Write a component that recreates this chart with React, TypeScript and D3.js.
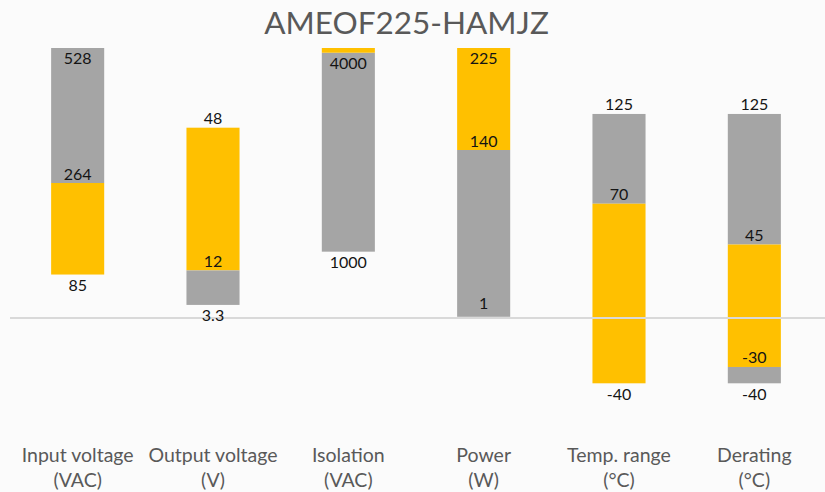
import React from "react";
import * as d3 from "d3";

const title = "AMEOF225-HAMJZ";
const categories = ["Input voltage", "Output voltage", "Isolation", "Power", "Temp. range", "Derating"];
const units = ["(VAC)", "(V)", "(VAC)", "(W)", "(°C)", "(°C)"];
// value that reaches the top of the plot for each category (each has its own scale)
const fullScale = [528, 68.1, 4071, 225, 165.4, 165.4];

// segments: [from, to, series] where series 0 = grey, 1 = yellow
const segInput = [[264, 528, 0], [85, 264, 1]];
const segOutput = [[12, 48, 1], [3.3, 12, 0]];
const segIsolation = [[1000, 4000, 0], [4000, 4500, 1]];
const segPower = [[140, 225, 1], [1, 140, 0]];
const segTemp = [[70, 125, 0], [-40, 70, 1]];
const segDerating = [[45, 125, 0], [-30, 45, 1], [-40, -30, 0]];
const segments = [segInput, segOutput, segIsolation, segPower, segTemp, segDerating];

const labelValues = [
  ["528", "264", "85"],
  ["48", "12", "3.3"],
  ["4000", "1000"],
  ["225", "140", "1"],
  ["125", "70", "-40"],
  ["125", "45", "-30", "-40"],
];
const labelPlacement = [
  ["in", "above", "below"],
  ["above", "above", "below"],
  ["in", "below"],
  ["in", "above", "inBottom"],
  ["above", "above", "below"],
  ["above", "above", "above", "below"],
];

const seriesColors = ["#A5A5A5", "#FFC000"];

export default function App() {
  const W = 825, H = 492;
  const x = d3.scaleBand<string>().domain(categories).range([10, 822]).padding(0);
  const y = d3.scaleLinear().domain([-0.4, 1]).range([48 + 270 * 1.4, 48]);
  const barW = x.bandwidth() / 2.55;
  const font = "Lato, 'Open Sans', sans-serif";
  const offsets: Record<string, number> = { in: 16, above: -3.5, below: 16.5, inBottom: -8 };

  return (
    <svg width={W} height={H} style={{ position: "absolute", left: 0, top: 0, background: "#fbfbfb" }}>
      <defs>
        <clipPath id="plot">
          <rect x={10} y={48} width={812} height={400} />
        </clipPath>
      </defs>
      <text x={406.5} y={34} textAnchor="middle" fontFamily={font} fontSize={31.5} fill="#595959">
        {title}
      </text>
      <g clipPath="url(#plot)">
        {categories.map((c, i) => {
          const cx = (x(c) as number) + x.bandwidth() / 2;
          const s = (v: number) => y(v / fullScale[i]);
          return segments[i].map((sg, j) => {
            const top = s(Math.max(sg[0], sg[1]));
            const bot = s(Math.min(sg[0], sg[1]));
            return (
              <rect key={c + j} x={cx - barW / 2} y={top} width={barW} height={bot - top} fill={seriesColors[sg[2]]} />
            );
          });
        })}
      </g>
      <line x1={10} x2={825} y1={y(0)} y2={y(0)} stroke="#d9d9d9" strokeWidth={2} />
      {categories.map((c, i) => {
        const cx = (x(c) as number) + x.bandwidth() / 2;
        const s = (v: number) => y(v / fullScale[i]);
        return labelValues[i].map((lv, j) => (
          <text key={c + "l" + j} x={cx} y={s(parseFloat(lv)) + offsets[labelPlacement[i][j]]} textAnchor="middle"
            fontFamily={font} fontSize={16} fill="#141414">
            {lv}
          </text>
        ));
      })}
      {categories.map((c, i) => {
        const cx = (x(c) as number) + x.bandwidth() / 2;
        return (
          <text key={c + "c"} x={cx} textAnchor="middle" fontFamily={font} fontSize={19.5} fill="#595959">
            <tspan x={cx} y={462}>{c}</tspan>
            <tspan x={cx} y={487}>{units[i]}</tspan>
          </text>
        );
      })}
    </svg>
  );
}
